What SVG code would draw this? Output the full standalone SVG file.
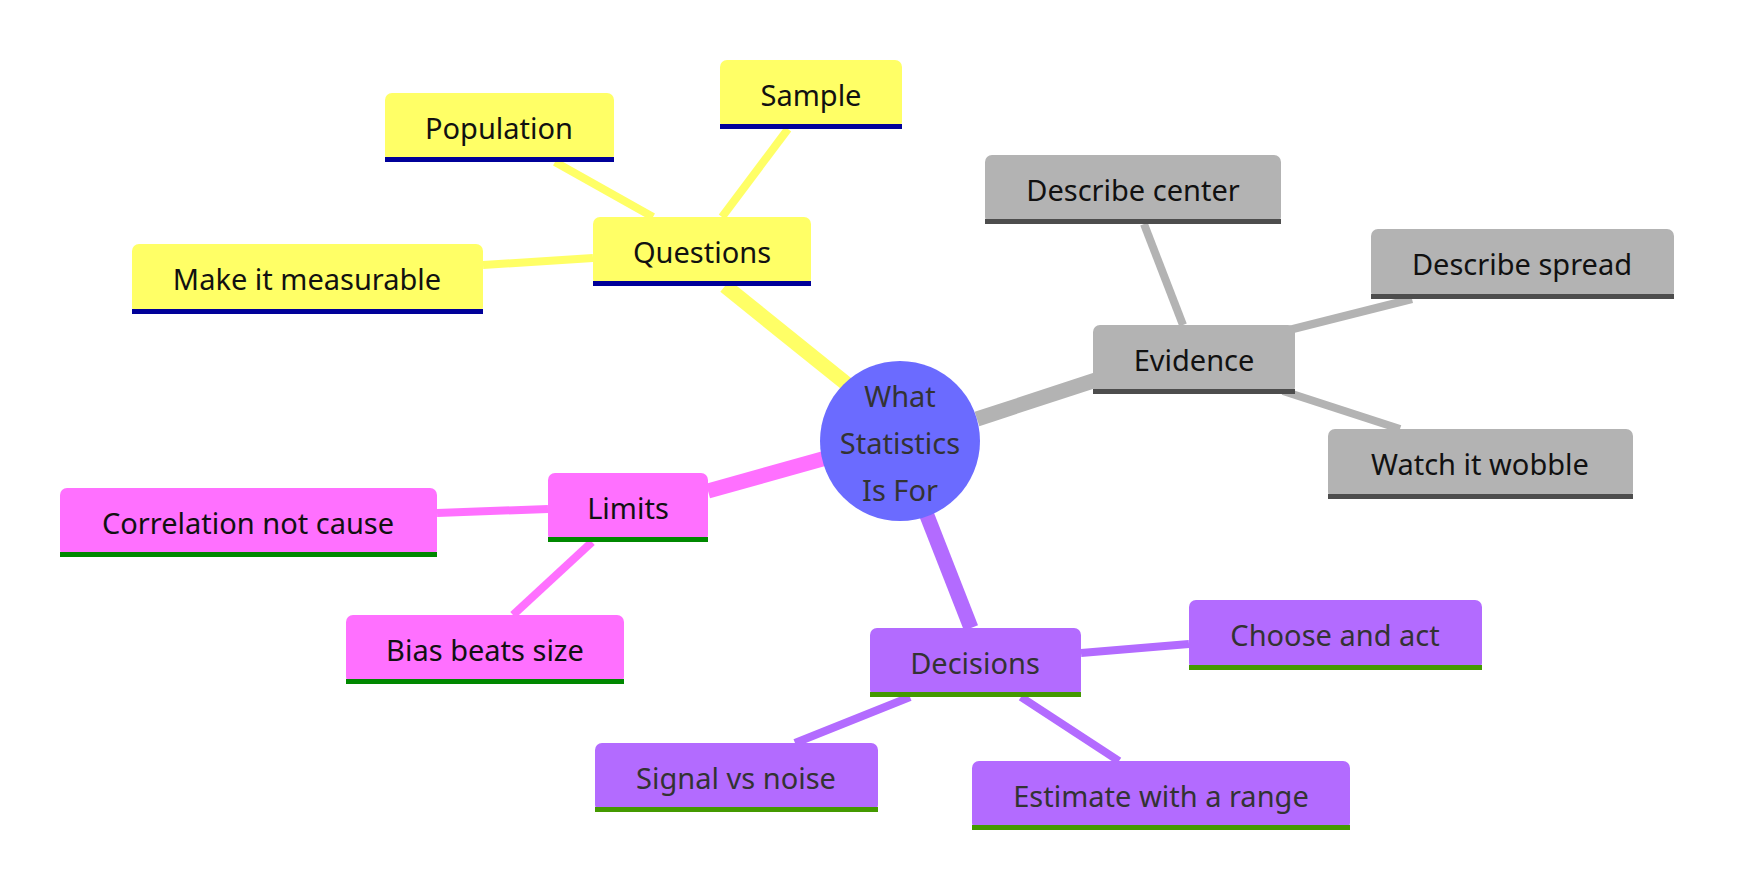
<svg xmlns="http://www.w3.org/2000/svg" width="1750" height="896" viewBox="0 0 1750 896">
<style>
text{font-family:"Noto Sans","Open Sans",sans-serif;font-size:29px;text-anchor:middle;dominant-baseline:central;fill:#111}
.q rect.b{fill:#ffff66}.q rect.u{fill:#000099}
.e rect.b{fill:#b3b3b3}.e rect.u{fill:#4d4d4d}
.l rect.b{fill:#ff70ff}.l rect.u{fill:#008800}
.d rect.b{fill:#b36bff}.d rect.u{fill:#449900}.d text{fill:#333}
line{stroke-linecap:butt}
</style>
<rect width="1750" height="896" fill="#fff"/>
<g id="connectors" fill="none">
<line x1="848" y1="385" x2="725" y2="286" stroke="#ffff66" stroke-width="15"/>
<line x1="977" y1="419" x2="1099" y2="379" stroke="#b3b3b3" stroke-width="15"/>
<line x1="826" y1="458" x2="708" y2="491" stroke="#ff70ff" stroke-width="15"/>
<line x1="926" y1="513" x2="971" y2="628" stroke="#b36bff" stroke-width="15"/>
<g stroke="#ffff66" stroke-width="8"><line x1="653" y1="217" x2="555" y2="162"/><line x1="722" y1="217" x2="788" y2="129"/><line x1="593" y1="258" x2="483" y2="265"/></g>
<g stroke="#b3b3b3" stroke-width="8"><line x1="1183" y1="325" x2="1144" y2="224"/><line x1="1289" y1="330" x2="1412" y2="299"/><line x1="1283" y1="391" x2="1400" y2="429"/></g>
<g stroke="#ff70ff" stroke-width="8"><line x1="548" y1="509" x2="437" y2="513"/><line x1="592" y1="542" x2="513" y2="615"/></g>
<g stroke="#b36bff" stroke-width="8"><line x1="1081" y1="653" x2="1189" y2="644"/><line x1="910" y1="697" x2="795" y2="743"/><line x1="1021" y1="697" x2="1119" y2="761"/></g>
</g>
<g id="center"><circle cx="900" cy="441" r="80" fill="#6b6bff"/>
<text x="900" y="395" style="fill:#333">What</text><text x="900" y="442" style="fill:#333">Statistics</text><text x="900" y="489" style="fill:#333">Is For</text></g>
<g id="questions" class="q"><rect class="b" x="593" y="217" width="218" height="69" rx="7"/><rect class="u" x="593" y="281" width="218" height="5"/><text x="702" y="251">Questions</text></g>
<g id="population" class="q"><rect class="b" x="385" y="93" width="229" height="69" rx="7"/><rect class="u" x="385" y="157" width="229" height="5"/><text x="499" y="127">Population</text></g>
<g id="sample" class="q"><rect class="b" x="720" y="60" width="182" height="69" rx="7"/><rect class="u" x="720" y="124" width="182" height="5"/><text x="811" y="94">Sample</text></g>
<g id="measurable" class="q"><rect class="b" x="132" y="244" width="351" height="70" rx="7"/><rect class="u" x="132" y="309" width="351" height="5"/><text x="307" y="278">Make it measurable</text></g>
<g id="evidence" class="e"><rect class="b" x="1093" y="325" width="202" height="69" rx="7"/><rect class="u" x="1093" y="389" width="202" height="5"/><text x="1194" y="359">Evidence</text></g>
<g id="center-desc" class="e"><rect class="b" x="985" y="155" width="296" height="69" rx="7"/><rect class="u" x="985" y="219" width="296" height="5"/><text x="1133" y="189">Describe center</text></g>
<g id="spread" class="e"><rect class="b" x="1371" y="229" width="303" height="70" rx="7"/><rect class="u" x="1371" y="294" width="303" height="5"/><text x="1522" y="263">Describe spread</text></g>
<g id="wobble" class="e"><rect class="b" x="1328" y="429" width="305" height="70" rx="7"/><rect class="u" x="1328" y="494" width="305" height="5"/><text x="1480" y="463">Watch it wobble</text></g>
<g id="limits" class="l"><rect class="b" x="548" y="473" width="160" height="69" rx="7"/><rect class="u" x="548" y="537" width="160" height="5"/><text x="628" y="507">Limits</text></g>
<g id="correlation" class="l"><rect class="b" x="60" y="488" width="377" height="69" rx="7"/><rect class="u" x="60" y="552" width="377" height="5"/><text x="248" y="522">Correlation not cause</text></g>
<g id="bias" class="l"><rect class="b" x="346" y="615" width="278" height="69" rx="7"/><rect class="u" x="346" y="679" width="278" height="5"/><text x="485" y="649">Bias beats size</text></g>
<g id="decisions" class="d"><rect class="b" x="870" y="628" width="211" height="69" rx="7"/><rect class="u" x="870" y="692" width="211" height="5"/><text x="975" y="662">Decisions</text></g>
<g id="choose" class="d"><rect class="b" x="1189" y="600" width="293" height="70" rx="7"/><rect class="u" x="1189" y="665" width="293" height="5"/><text x="1335" y="634">Choose and act</text></g>
<g id="signal" class="d"><rect class="b" x="595" y="743" width="283" height="69" rx="7"/><rect class="u" x="595" y="807" width="283" height="5"/><text x="736" y="777">Signal vs noise</text></g>
<g id="estimate" class="d"><rect class="b" x="972" y="761" width="378" height="69" rx="7"/><rect class="u" x="972" y="825" width="378" height="5"/><text x="1161" y="795">Estimate with a range</text></g>
</svg>
